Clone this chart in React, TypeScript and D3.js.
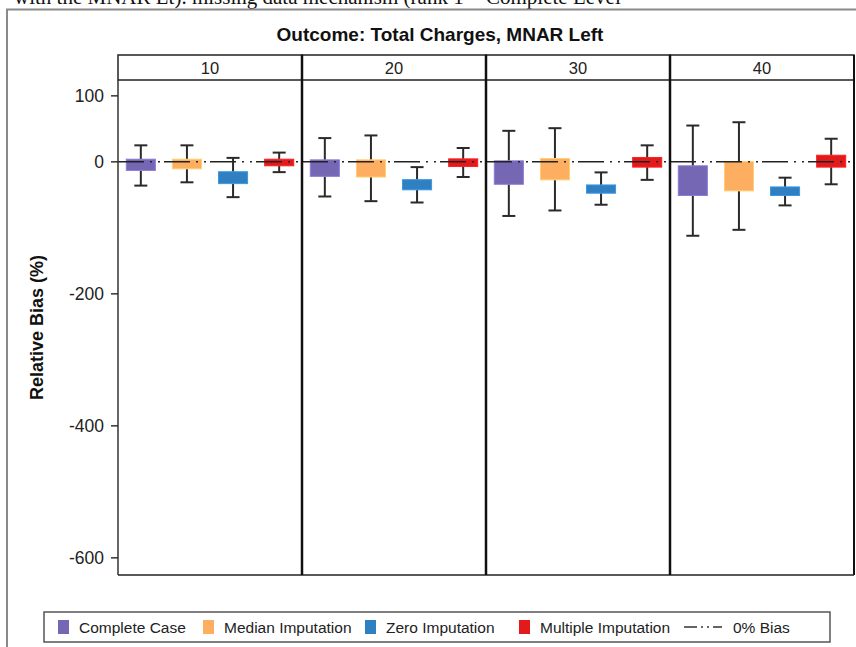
import React from 'react'
import * as d3 from 'd3'

// facets and groups
const panels = ['10', '20', '30', '40']
const methods = ['Complete Case', 'Median Imputation', 'Zero Imputation', 'Multiple Imputation']
const colors = ['#7567b3', '#fdae61', '#2f7fc1', '#e31a1c']
const yTicks = [100, 0, -200, -400, -600]

// box stats per panel, one value per method (relative bias %)
const whiskerTop = [
  [25, 25, 6, 14],
  [36, 40, -8, 21],
  [47, 51, -16, 25],
  [55, 60, -24, 35],
]
const boxTop = [
  [4, 4, -15, 4],
  [3, 3, -27, 4.5],
  [1.5, 5, -35, 6.6],
  [-6, 0.5, -38, 10],
]
const boxBottom = [
  [-13, -10.6, -33, -6],
  [-22, -23, -42.4, -7],
  [-34, -27.3, -47.5, -8],
  [-51, -44, -51, -8],
]
const whiskerBottom = [
  [-36, -31, -53.5, -15.6],
  [-52.5, -59.6, -61.6, -23],
  [-82, -73.7, -65, -27.3],
  [-112, -103, -66, -34],
]

const width = 856
const height = 647
const plotLeft = 118
const plotRight = 854
const plotTop = 80
const plotBottom = 575
const stripTop = 55

const App = () => {
  const x = d3.scaleBand().domain(panels).range([plotLeft, plotRight])
  const xi = d3.scaleBand().domain(methods).range([0, x.bandwidth()]).paddingInner(0.37).paddingOuter(0.18)
  const y = d3.scaleLinear().domain([-626, 124]).range([plotBottom, plotTop])
  const boxW = xi.bandwidth()
  const cap = 13

  return (
    <svg
      width={width}
      height={height}
      style={{ position: 'absolute', left: 0, top: 0, background: '#fff' }}
      fontFamily="Liberation Sans, Arial, sans-serif"
    >
      {/* text of the page above the figure, cut by the crop */}
      <text x={14} y={4} fontFamily="Liberation Serif, Times New Roman, serif" fontSize={21} fill="#111">
        with the MNAR Lt). missing data mechanism (rank 1 = Complete Level
      </text>
      {/* outer frame */}
      <path d={`M7,${height} V9.5 H${width}`} fill="none" stroke="#8a8a8a" strokeWidth={2} />

      <text x={440} y={41} textAnchor="middle" fontSize={19} fontWeight="bold" fill="#111">
        Outcome: Total Charges, MNAR Left
      </text>

      {/* panels */}
      {panels.map((p, pi) => {
        const x0 = x(p)!
        return (
          <g key={p}>
            <rect x={x0} y={stripTop} width={x.bandwidth()} height={plotTop - stripTop} fill="#fff" stroke="#222" strokeWidth={1.5} />
            <text x={x0 + x.bandwidth() / 2} y={73.5} textAnchor="middle" fontSize={16.5} fill="#222">
              {p}
            </text>
            {methods.map((m, mi) => {
              const cx = x0 + xi(m)! + boxW / 2
              const yt = y(boxTop[pi][mi])
              const yb = y(boxBottom[pi][mi])
              const wt = y(whiskerTop[pi][mi])
              const wb = y(whiskerBottom[pi][mi])
              return (
                <g key={m}>
                  <line x1={cx} x2={cx} y1={wt} y2={yt} stroke="#2a2a2a" strokeWidth={2} />
                  <line x1={cx} x2={cx} y1={yb} y2={wb} stroke="#2a2a2a" strokeWidth={2} />
                  <line x1={cx - cap / 2} x2={cx + cap / 2} y1={wt} y2={wt} stroke="#2a2a2a" strokeWidth={2} />
                  <line x1={cx - cap / 2} x2={cx + cap / 2} y1={wb} y2={wb} stroke="#2a2a2a" strokeWidth={2} />
                  <rect
                    x={cx - boxW / 2}
                    y={yt}
                    width={boxW}
                    height={yb - yt}
                    fill={colors[mi]}
                    stroke={d3.color(colors[mi])!.brighter(0.5).formatHex()}
                    strokeWidth={1}
                  />
                </g>
              )
            })}
          </g>
        )
      })}

      {/* 0% bias reference line */}
      <line
        x1={plotLeft}
        x2={plotRight}
        y1={y(0)}
        y2={y(0)}
        stroke="#222"
        strokeWidth={1.5}
        strokeDasharray="26 6 2 6 2 4"
      />

      {/* panel frames */}
      <line x1={plotLeft} x2={plotRight} y1={plotBottom} y2={plotBottom} stroke="#222" strokeWidth={1.5} />
      <line x1={plotLeft} x2={plotLeft} y1={plotTop} y2={plotBottom} stroke="#333" strokeWidth={1.5} />
      {panels.slice(1).map((p) => (
        <line key={p} x1={x(p)!} x2={x(p)!} y1={stripTop} y2={plotBottom} stroke="#111" strokeWidth={2.5} />
      ))}
      <line x1={plotRight} x2={plotRight} y1={stripTop} y2={plotBottom} stroke="#111" strokeWidth={2} />

      {/* y axis */}
      {yTicks.map((t) => (
        <g key={t} transform={`translate(${plotLeft},${y(t)})`}>
          <line x1={-7} x2={0} stroke="#333" strokeWidth={1.5} />
          <text x={-14} dy="0.35em" textAnchor="end" fontSize={17.5} fill="#222">
            {t}
          </text>
        </g>
      ))}
      <text
        transform={`translate(43,${(plotTop + plotBottom) / 2}) rotate(-90)`}
        textAnchor="middle"
        fontSize={18}
        fontWeight="bold"
        fill="#111"
      >
        Relative Bias (%)
      </text>

      {/* legend */}
      <rect x={44} y={612} width={786} height={30} fill="#fff" stroke="#555" strokeWidth={1.5} />
      {[
        { label: methods[0], x: 58, color: colors[0] },
        { label: methods[1], x: 203, color: colors[1] },
        { label: methods[2], x: 365, color: colors[2] },
        { label: methods[3], x: 519, color: colors[3] },
      ].map((d) => (
        <g key={d.label}>
          <rect x={d.x} y={620} width={11} height={14} fill={d.color} />
          <text x={d.x + 21} y={628} dy="0.35em" fontSize={15.5} fill="#222">
            {d.label}
          </text>
        </g>
      ))}
      <line x1={684} x2={722} y1={627} y2={627} stroke="#333" strokeWidth={1.5} strokeDasharray="13 4 2 4 2 4 13" />
      <text x={733} y={628} dy="0.35em" fontSize={15.5} fill="#222">
        0% Bias
      </text>
    </svg>
  )
}

export default App
